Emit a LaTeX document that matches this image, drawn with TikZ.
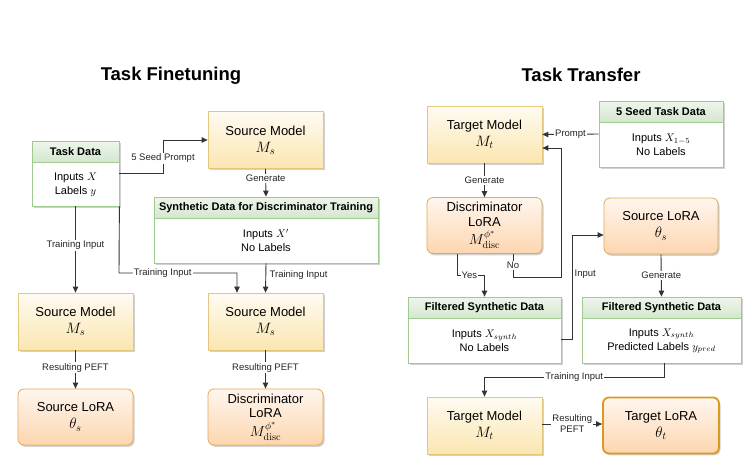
\documentclass[tikz,border=0pt]{standalone}
\usepackage{fix-cm}
\usepackage[no-math]{fontspec}
\setmainfont{Liberation Sans}
\usetikzlibrary{arrows.meta,shadows,calc}
\definecolor{ytop}{HTML}{FFFBF2}
\definecolor{ybot}{HTML}{FBE6B0}
\definecolor{ycol}{HTML}{E3C77F}
\definecolor{otop}{HTML}{FFF6EE}
\definecolor{obot}{HTML}{FDD6B0}
\definecolor{ocol}{HTML}{E2AA52}
\definecolor{tcol}{HTML}{D99A1E}
\definecolor{gtop}{HTML}{EEF6EA}
\definecolor{gbot}{HTML}{D3E7CF}
\definecolor{gcol}{HTML}{9FCB90}
\definecolor{lcol}{HTML}{333333}
\newcommand{\mbx}[1]{{\fontsize{15}{15}\selectfont$#1$}}
\newcommand{\mdisc}{{\fontsize{14.5}{14.5}\selectfont$M^{\phi^*}_{\mathrm{disc}}$}}
\begin{document}
\begin{tikzpicture}[x=1pt,y=-1pt,
  shad/.style={drop shadow={opacity=0.18, shadow xshift=1.5pt, shadow yshift=-1.8pt, fill=black}},
  model/.style={shad, draw=ycol, line width=0.8pt, top color=ytop, bottom color=ybot,
    minimum width=115pt, minimum height=57pt, align=center, inner sep=1pt,
    font=\fontsize{13}{17}\selectfont},
  lora/.style={shad, draw=ocol, line width=0.8pt, top color=otop, bottom color=obot,
    rounded corners=6pt, minimum width=115pt, minimum height=56pt, align=center, inner sep=1pt,
    font=\fontsize{13}{17}\selectfont},
  dlora/.style={lora, font=\fontsize{13}{14.5}\selectfont},
  databox/.style={shad, draw=gcol, fill=white, line width=0.8pt},
  datahead/.style={draw=gcol, line width=0.8pt, top color=gtop, bottom color=gbot,
    minimum height=21pt, anchor=north, inner sep=1pt, font=\bfseries\fontsize{11}{13}\selectfont},
  bodytxt/.style={align=center, inner sep=1pt, font=\fontsize{11}{14}\selectfont},
  lbl/.style={fill=white, inner sep=1pt, text=black!85, align=center, font=\fontsize{9.5}{11}\selectfont},
  arr/.style={draw=lcol, line width=0.9pt, -{Triangle[length=6pt,width=5.5pt]}},
  ttl/.style={font=\bfseries\fontsize{18.5}{22}\selectfont}
]
\useasboundingbox (0,0) rectangle (756,475);

% titles
\node[ttl] (tl) at (171,76) {Task Finetuning};
\node[ttl] (tr) at (581,75) {Task Transfer};

% ---------- left part ----------
\node[databox, minimum width=87pt, minimum height=65pt] (td) at (75.5,173.5) {};
\node[datahead, minimum width=87pt] (tdh) at (td.north) {Task Data};
\node[bodytxt] (tdb) at ($(tdh.south)!0.5!(td.south)$) {Inputs $X$\\Labels $y$};

\node[model] (smt) at (265.5,140) {Source Model\\\mbx{M_s}};

\node[databox, minimum width=224pt, minimum height=66pt] (syn) at (266,230) {};
\node[datahead, minimum width=224pt] (synh) at (syn.north) {Synthetic Data for Discriminator Training};
\node[bodytxt] (synb) at ($(synh.south)!0.5!(syn.south)$) {Inputs $X'$\\No Labels};

\node[model] (sml) at (75.5,321.5) {Source Model\\\mbx{M_s}};
\node[lora] (lol) at (75.5,417) {Source LoRA\\\mbx{\theta_s}};
\node[model] (smr) at (265.5,321.5) {Source Model\\\mbx{M_s}};
\node[dlora] (dlr) at (265.5,417) {Discriminator\\LoRA\\[4pt]\mdisc};

\coordinate (p1) at (163,173.5);
\coordinate (p2) at (163,140);
\draw[arr] (td.east) -- (p1) -- node[lbl, pos=0.45] {5 Seed Prompt} (p2) -- (smt.west);
\draw[arr] (smt.south) -- node[lbl, pos=0.35] {Generate} (syn.north);
\draw[arr] (td.south) -- node[lbl, pos=0.45] {Training Input} (sml.north);
\coordinate (q1) at (119,273);
\coordinate (q2) at (237,273);
\draw[arr] (td.south east) -- (q1) -- node[lbl, pos=0.37] {Training Input} (q2) -- (q2 |- smr.north);
\draw[arr] (syn.south) -- (smr.north);
\node[lbl, anchor=west] (tilab) at (268.5,275) {Training Input};
\draw[arr] (sml.south) -- node[lbl, pos=0.45] {Resulting PEFT} (lol.north);
\draw[arr] (smr.south) -- node[lbl, pos=0.45] {Resulting PEFT} (dlr.north);

% ---------- right part ----------
\node[model] (tmt) at (484.5,134.5) {Target Model\\\mbx{M_t}};
\node[databox, minimum width=124pt, minimum height=66pt] (sd) at (661,134) {};
\node[datahead, minimum width=124pt] (sdh) at (sd.north) {5 Seed Task Data};
\node[bodytxt] (sdb) at ($(sdh.south)!0.5!(sd.south)$) {Inputs $X_{1-5}$\\No Labels};

\node[dlora] (dl) at (484.5,225.5) {Discriminator\\LoRA\\[4pt]\mdisc};
\node[lora, minimum width=114pt] (slr) at (661,226) {Source LoRA\\\mbx{\theta_s}};

\node[databox, minimum width=153pt, minimum height=66pt] (fl) at (484.5,330) {};
\node[datahead, minimum width=153pt] (flh) at (fl.north) {Filtered Synthetic Data};
\node[bodytxt] (flb) at ($(flh.south)!0.5!(fl.south)$) {Inputs $X_{synth}$\\No Labels};

\node[databox, minimum width=159pt, minimum height=66pt] (fr) at (661.5,330) {};
\node[datahead, minimum width=159pt] (frh) at (fr.north) {Filtered Synthetic Data};
\node[bodytxt] (frb) at ($(frh.south)!0.5!(fr.south)$) {Inputs $X_{synth}$\\Predicted Labels $y_{pred}$};

\node[model] (tmb) at (484.5,425.5) {Target Model\\\mbx{M_t}};
\node[lora, draw=tcol, line width=1.8pt, minimum width=116pt] (tlr) at (661,425.5) {Target LoRA\\\mbx{\theta_t}};

\draw[arr] (sd.west) -- node[lbl] {Prompt} (tmt.east);
\draw[arr] (tmt.south) -- node[lbl, pos=0.5] {Generate} (dl.north);

\coordinate (n1) at (513,277);
\coordinate (n2) at (561,277);
\coordinate (n3) at (561,148);
\draw[arr] ([xshift=28.5pt]dl.south) -- node[lbl, pos=0.5] {No} (n1) -- (n2) -- (n3) -- (n3 -| tmt.east);

\coordinate (y1) at (457,275);
\coordinate (y2) at (484.5,275);
\draw[arr] ([xshift=-27.5pt]dl.south) -- (y1) -- node[lbl, pos=0.45] {Yes} (y2) -- (fl.north);

\coordinate (i1) at (572,339);
\coordinate (i2) at (572,235);
\draw[arr] ([yshift=-9pt]fl.east) -- (i1) -- (i2) -- (i2 -| slr.west);
\node[lbl, anchor=west] (inlab) at (573.5,274) {Input};

\draw[arr] (slr.south) -- node[lbl, pos=0.5] {Generate} (fr.north);

\coordinate (t1) at (664,377);
\coordinate (t2) at (484.5,377);
\draw[arr] ([xshift=2.5pt]fr.south) -- (t1) -- node[lbl, pos=0.5] {Training Input} (t2) -- (tmb.north);

\draw[arr] ([yshift=1.5pt]tmb.east) -- node[lbl, pos=0.5] {Resulting\\PEFT} ([yshift=1.5pt]tlr.west);
\end{tikzpicture}
\end{document}
